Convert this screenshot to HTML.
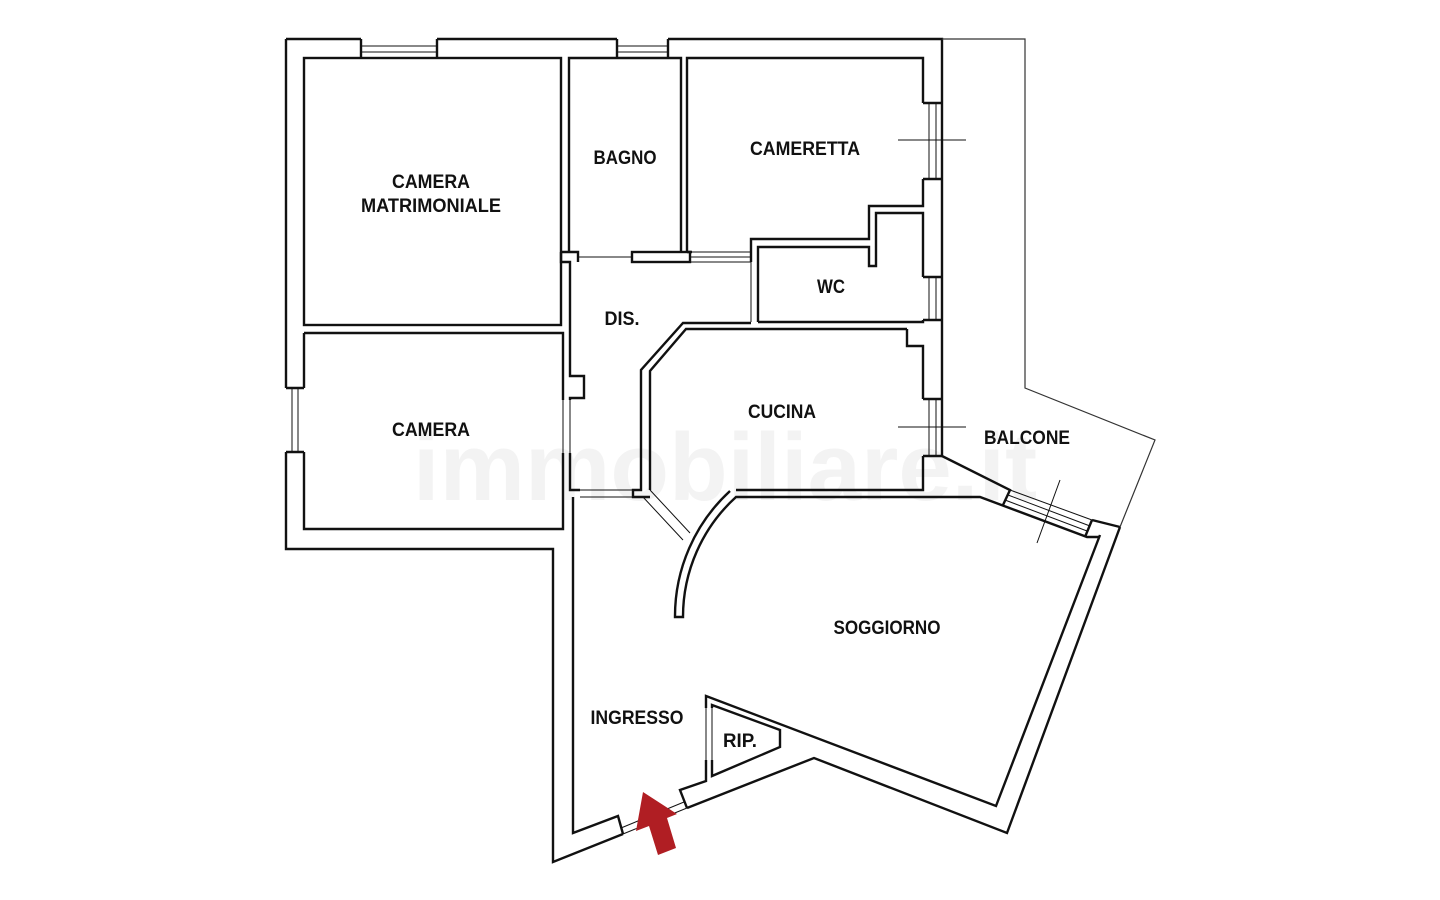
<!DOCTYPE html>
<html><head><meta charset="utf-8"><style>
html,body{margin:0;padding:0;background:#fff;}
svg{display:block}
text.l{font-family:"Liberation Sans Narrow","Liberation Sans",sans-serif;font-weight:bold;font-size:19px;fill:#111;text-anchor:middle}
</style></head><body>
<svg width="1440" height="900" viewBox="0 0 1440 900" xmlns="http://www.w3.org/2000/svg">
<rect width="1440" height="900" fill="#fff"/>
<text x="725" y="500" text-anchor="middle" style="font-family:'Liberation Sans',sans-serif;font-size:96px;fill:#f3f3f3;font-weight:bold">immobiliare.it</text>
<g fill="none" stroke="#111" stroke-width="2.4" stroke-linejoin="miter">
<path d="M286,39 H361 M437,39 H617 M668,39 H942 V456"/>
<path d="M286,39 V388 M286,452 V549 H553 V862 L623,834"/>
<path d="M687,808 L814,758 L1007,833 L1120,527"/>
<rect x="304" y="58" width="257" height="267"/>
<path d="M361,39 V58 M437,39 V58 M617,39 V58 M668,39 V58"/>
<path d="M304,333 H563 V400 M563,453 V529 H304 V452 M304,388 V333"/>
<path d="M286,388 H304 M286,452 H304"/>
<path d="M569,252 V58 H681 V252"/>
<path d="M561,252 V262 H570 V376 H584 V398 H570 V400 M570,453 V490 H580 M561,252 H578 V262"/>
<rect x="632" y="252" width="58" height="10"/>
<path d="M687,252 V58 H923 V103 M923,179 V206 H869 V239 H751 V262 M687,252 H692"/>
<path d="M923,103 H942 M923,179 H942 M923,277 H942 M923,320 H942 M923,399 H942 M923,456 H942"/>
<path d="M758,322 V247 H869 V266 H876 V213 H923 V277 M923,320 V322 H758"/>
<path d="M751,323 H683 L641,370 V490 H633 V497 H650"/>
<path d="M907,329 H686 L650,371 V490"/>
<path d="M907,329 V346 H923 V399 M923,456 V490 H736"/>
<path d="M730,491 A170,170 0 0 0 675,617 H683 A162,162 0 0 1 736,497 H980 L1087,537 H1100"/>
<path d="M942,456 L1010,490 L1003,505 M1092,520 L1120,527 M1092,520 L1085,537"/>
<path d="M1100,535 L996,806 L706,696 V708 M706,760 V781 L680,790 L687,808"/>
<path d="M712,708 V705 L780,730 V747 L712,776 V760"/>
<path d="M573,497 V833 L618,816 L623,834"/>
</g>
<g fill="none" stroke="#111" stroke-width="1">
<path d="M361,46 H437 M361,52 H437 M617,46 H668 M617,52 H668"/>
<path d="M292,388 V452 M298,388 V452"/>
<path d="M929,103 V179 M936,103 V179 M929,277 V320 M936,277 V320 M929,399 V456 M936,399 V456"/>
<path d="M578,257 H632 M690,252 H751 M690,262 H751 M690,257 H751"/>
<path d="M751,262 V322 M758,262 V322"/>
<path d="M563,400 V453 M570,400 V453"/>
<path d="M580,490 H633 M580,497 H633"/>
<path d="M650,490 L690,533 M643,497 L683,540"/>
<path d="M1010,490 L1092,520 M1008,495 L1090,526 M1005,500 L1087,531"/>
<path d="M706,708 V760 M712,708 V760"/>
<path d="M623,834 L687,808 M621,828 L684,802"/>
<path d="M898,140 H966 M898,427 H966 M1037,543 L1060,480"/>
</g>
<g fill="none" stroke="#333" stroke-width="1.2">
<path d="M942,39 H1025 V388 L1155,440 L1120,527"/>
</g>
<polygon points="643,792 677,814 667,818 676,848 658,855 649,826 636,831" fill="#b01e23"/>
<g transform="scale(1,1)">
<text class="l" x="431" y="188" textLength="78" lengthAdjust="spacingAndGlyphs">CAMERA</text>
<text class="l" x="431" y="212" textLength="140" lengthAdjust="spacingAndGlyphs">MATRIMONIALE</text>
<text class="l" x="625" y="164" textLength="63" lengthAdjust="spacingAndGlyphs">BAGNO</text>
<text class="l" x="805" y="155" textLength="110" lengthAdjust="spacingAndGlyphs">CAMERETTA</text>
<text class="l" x="831" y="293" textLength="28" lengthAdjust="spacingAndGlyphs">WC</text>
<text class="l" x="622" y="325" textLength="35" lengthAdjust="spacingAndGlyphs">DIS.</text>
<text class="l" x="431" y="436" textLength="78" lengthAdjust="spacingAndGlyphs">CAMERA</text>
<text class="l" x="782" y="418" textLength="68" lengthAdjust="spacingAndGlyphs">CUCINA</text>
<text class="l" x="1027" y="444" textLength="86" lengthAdjust="spacingAndGlyphs">BALCONE</text>
<text class="l" x="887" y="634" textLength="107" lengthAdjust="spacingAndGlyphs">SOGGIORNO</text>
<text class="l" x="637" y="724" textLength="93" lengthAdjust="spacingAndGlyphs">INGRESSO</text>
<text class="l" x="740" y="747" textLength="34" lengthAdjust="spacingAndGlyphs">RIP.</text>
</g>
</svg>
</body></html>
